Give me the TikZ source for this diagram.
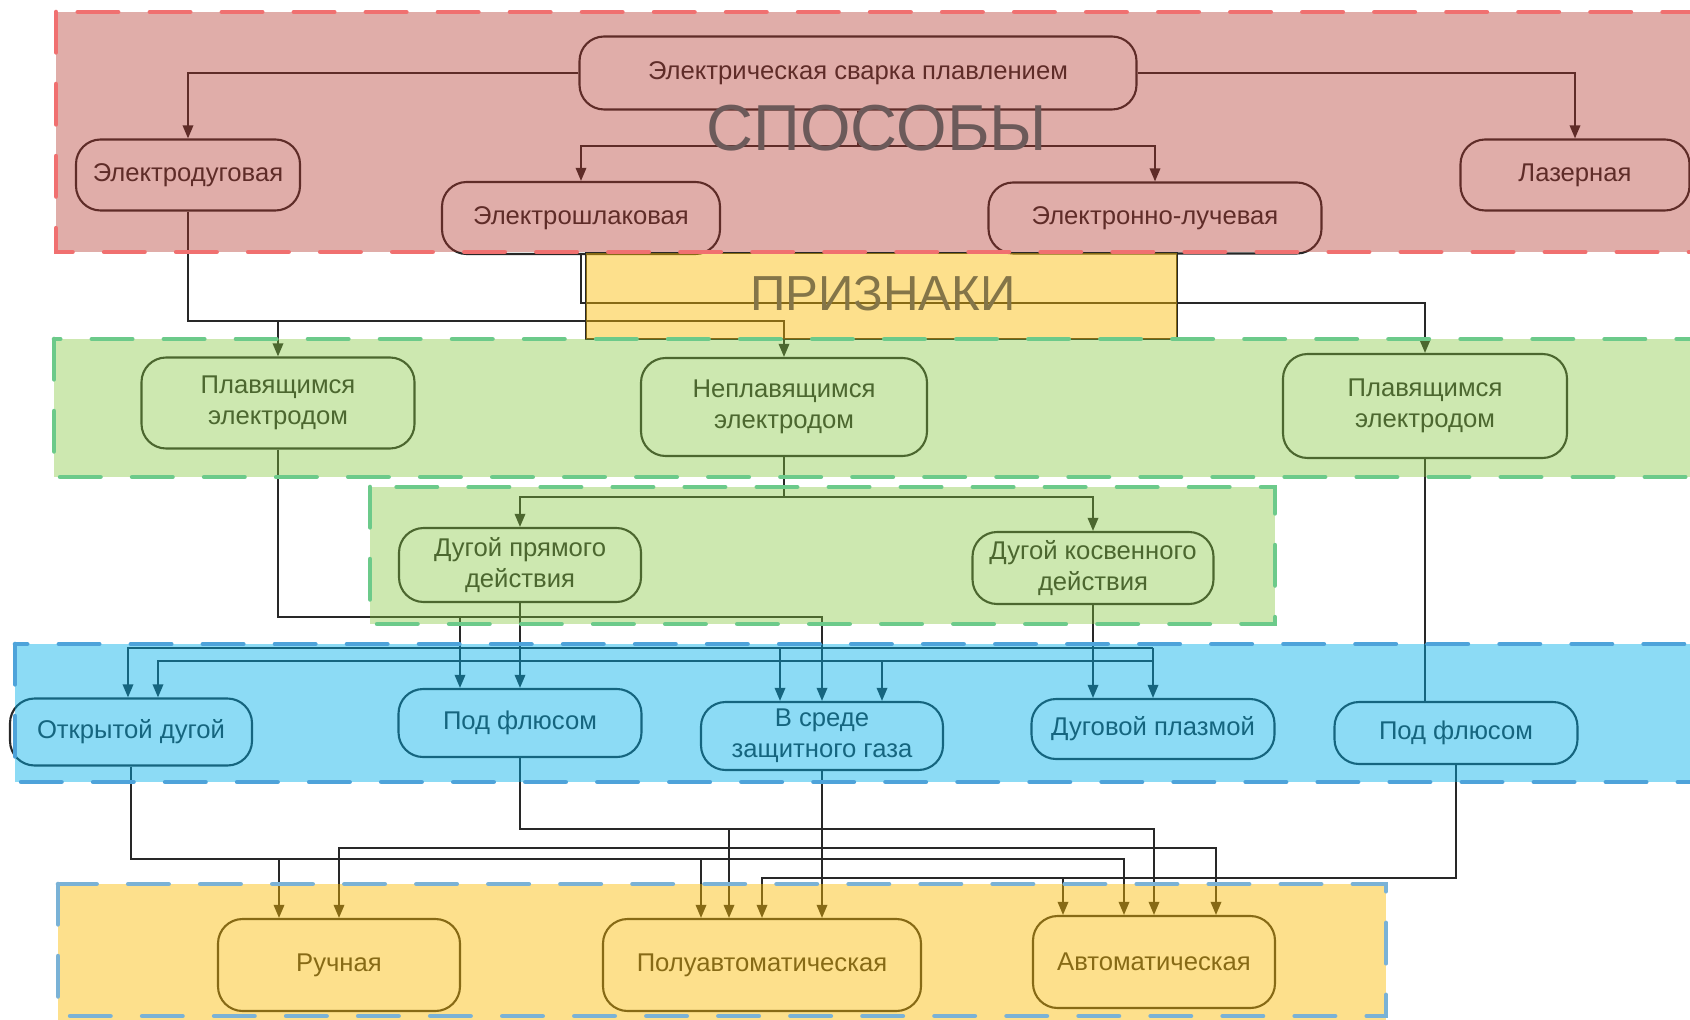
\documentclass[tikz,border=0pt]{standalone}
\usepackage{fontspec}
\setmainfont{Liberation Sans}
\usetikzlibrary{arrows.meta}
\definecolor{ink}{RGB}{40,40,40}
\definecolor{ovred}{RGB}{178,52,42}
\definecolor{ovgreen}{RGB}{130,198,58}
\definecolor{ovblue}{RGB}{0,177,233}
\definecolor{ovyellow}{RGB}{251,187,0}
\definecolor{dred}{RGB}{240,112,112}
\definecolor{dgreen}{RGB}{108,202,138}
\definecolor{dblue}{RGB}{78,163,218}
\definecolor{dbluelight}{RGB}{122,178,214}
\definecolor{lblA}{RGB}{108,90,90}
\definecolor{lblB}{RGB}{132,117,72}
\begin{document}
\begin{tikzpicture}[x=0.02cm,y=-0.02cm,
  nd/.style={draw=ink, text=ink, line width=1.2pt, rounded corners=14pt, align=center, inner sep=2pt, font=\fontsize{14.6}{17.5}\selectfont},
  sz/.style args={#1/#2}{minimum width=#1*0.02cm, minimum height=#2*0.02cm},
  ln/.style={draw=ink, line width=1.1pt},
  arr/.style={ln, -{Triangle[length=7.5pt,width=6pt]}},
  band/.style={fill opacity=0.4, draw=none},
  bandb/.style={fill opacity=0.45, draw=none},
  dsh/.style={line width=2.6pt, dash pattern=on 23pt off 18pt, line cap=round}
]
\useasboundingbox (0,0) rectangle (1690,1020);
\fill[white] (0,0) rectangle (1690,1020);
\clip (0,0) rectangle (1690,1020);

% ---------- nodes ----------
\node[nd, sz=557/73] (main) at (858,73) {Электрическая сварка плавлением};
\node[nd, sz=224/71] (edg) at (188,175) {Электродуговая};
\node[nd, sz=278/72] (esh) at (581,218) {Электрошлаковая};
\node[nd, sz=333/71] (elu) at (1155,218) {Электронно-лучевая};
\node[nd, sz=229/71] (laz) at (1575,175) {Лазерная};

\node[nd, sz=273/91] (pl1) at (278,403) {Плавящимся\\электродом};
\node[nd, sz=286/98] (npl) at (784,407) {Неплавящимся\\электродом};
\node[nd, sz=284/104] (pl2) at (1425,406) {Плавящимся\\электродом};

\node[nd, sz=242/74] (dpr) at (520,565) {Дугой прямого\\действия};
\node[nd, sz=241/72] (dks) at (1093,568) {Дугой косвенного\\действия};

\node[nd, sz=242/67] (otk) at (131,732) {Открытой дугой};
\node[nd, sz=243/68] (pf1) at (520,723) {Под флюсом};
\node[nd, sz=242/68] (vsr) at (822,736) {В среде\\защитного газа};
\node[nd, sz=243/60] (dpl) at (1153,729) {Дуговой плазмой};
\node[nd, sz=243/62] (pf2) at (1456,733) {Под флюсом};

\node[nd, sz=242/92] (ruc) at (339,965) {Ручная};
\node[nd, sz=318/92] (pol) at (762,965) {Полуавтоматическая};
\node[nd, sz=242/92] (avt) at (1154,962) {Автоматическая};

% ПРИЗНАКИ box outline
\draw[ink, line width=0.6pt] (586,253) rectangle (1177,339);

% ---------- connectors ----------
\coordinate (jm) at (main.south |- 0,146);
\draw[arr] (main.west) -| (edg.north);
\draw[arr] (main.east) -| (laz.north);
\draw[ln] (main.south) -- (jm);
\draw[arr] (jm) -| (esh.north);
\draw[arr] (jm) -| (elu.north);

\coordinate (j1) at (edg.south |- 0,321);
\draw[arr] (edg.south) -- (j1) -| (npl.north);
\draw[arr] (pl1.north |- j1) -- (pl1.north);
\coordinate (j2) at (esh.south |- 0,303);
\draw[arr] (esh.south) -- (j2) -| (pl2.north);

\coordinate (j3) at (npl.south |- 0,497);
\draw[ln] (npl.south) -- (j3);
\draw[arr] (j3) -| (dpr.north);
\draw[arr] (j3) -| (dks.north);

\coordinate (j4) at (pl1.south |- 0,617);
\draw[arr] (pl1.south) -- (j4) -| (vsr.north);
\draw[arr] (460,0 |- j4) -- (460,0 |- pf1.north);
\draw[arr] (dpr.south) -- (pf1.north);
\draw[arr] (dks.south) -- (dks.south |- dpl.north);
\draw[ln] (pl2.south) -- (pl2.south |- pf2.north);

\coordinate (b1) at (dpl.north |- 0,648);
\coordinate (b2) at (dpl.north |- 0,661);
\draw[arr] (b1) -- (dpl.north);
\draw[arr] (b1) -| (128,0 |- otk.north);
\draw[arr] (b2) -| (158,0 |- otk.north);
\draw[arr] (780,0 |- b1) -- (780,0 |- vsr.north);
\draw[arr] (882,0 |- b2) -- (882,0 |- vsr.north);

\coordinate (k1) at (otk.south |- 0,859);
\draw[arr] (otk.south) -- (k1) -| (1124,0 |- avt.north);
\draw[arr] (279,0 |- k1) -- (279,0 |- ruc.north);
\draw[arr] (701,0 |- k1) -- (701,0 |- pol.north);
\coordinate (k2) at (vsr.south |- 0,848);
\draw[arr] (vsr.south) -- (vsr.south |- pol.north);
\draw[arr] (k2) -| (ruc.north);
\draw[arr] (k2) -| (1216,0 |- avt.north);
\coordinate (k3) at (pf1.south |- 0,829);
\draw[arr] (pf1.south) -- (k3) -| (avt.north);
\draw[arr] (729,0 |- k3) -- (729,0 |- pol.north);
\coordinate (k4) at (pf2.south |- 0,878);
\draw[arr] (pf2.south) -- (k4) -| (pol.north);
\draw[arr] (1063,0 |- k4) -- (1063,0 |- avt.north);

% ---------- coloured overlays ----------
\fill[ovred, band] (56,12) rectangle (1720,252);
\fill[ovyellow, bandb] (586,253) rectangle (1177,339);
\fill[ovgreen, band] (54,339) rectangle (1720,477);
\fill[ovgreen, band] (370,487) rectangle (1275,624);
\fill[ovblue, bandb] (15,644) rectangle (1720,782);
\fill[ovyellow, bandb] (58,884) rectangle (1386,1030);

% ---------- dashed borders ----------
\draw[dsh, dred] (56,12) rectangle (1720,252);
\draw[dsh, dgreen] (54,339) rectangle (1720,477);
\draw[dsh, dgreen] (370,487) rectangle (1275,624);
\draw[dsh, dblue] (15,644) rectangle (1720,782);
\draw[dsh, dbluelight] (58,884) rectangle (1386,1016);

% ---------- big labels ----------
\node[text=lblA, font=\fontsize{37}{40}\selectfont, inner sep=0pt] (lbl1) at (877,128) {СПОСОБЫ};
\node[text=lblB, font=\fontsize{28}{30}\selectfont, inner sep=0pt] (lbl2) at (883,294) {ПРИЗНАКИ};
\end{tikzpicture}
\end{document}
